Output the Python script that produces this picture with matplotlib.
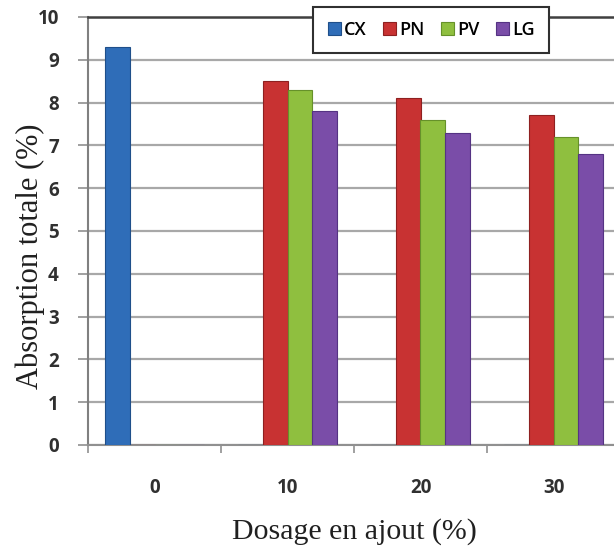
import matplotlib
matplotlib.use("Agg")
import matplotlib.pyplot as plt
import numpy as np

categories = ["0", "10", "20", "30"]
series_names = ["CX", "PN", "PV", "LG"]
cx = [9.3, 0, 0, 0]
pn = [0, 8.5, 8.1, 7.7]
pv = [0, 8.3, 7.6, 7.2]
lg = [0, 7.8, 7.3, 6.8]
yticks = [0, 1, 2, 3, 4, 5, 6, 7, 8, 9, 10]

colors = ["#2F6DB8", "#C83232", "#8FBF3F", "#7A4DA8"]
edges = ["#1F4F8A", "#8E2020", "#66912A", "#553383"]

W, H = 614, 558
fig = plt.figure(figsize=(W / 100, H / 100), dpi=100)
left = 88 / W
right = 620 / W
bottom = 1 - 445 / H
top = 1 - 17 / H
ax = fig.add_axes([left, bottom, right - left, top - bottom])

x = np.arange(len(categories))
bw = 0.185
allvals = [cx, pn, pv, lg]
for i, (vals, c, e) in enumerate(zip(allvals, colors, edges)):
    ax.bar(x + (i - 1.5) * bw, vals, width=bw, color=c, edgecolor=e,
           linewidth=0.8, label=series_names[i], zorder=3)

ax.set_xlim(-0.5, 3.5)
ax.set_ylim(0, 10)
ax.set_yticks(yticks)
ax.yaxis.grid(True, color="#A8A8A8", linewidth=1.6, zorder=0)
ax.set_axisbelow(True)

ax.spines["right"].set_visible(False)
ax.spines["top"].set_color("#404040")
ax.spines["top"].set_linewidth(1.8)
ax.spines["left"].set_color("#808080")
ax.spines["left"].set_linewidth(1.5)
ax.spines["bottom"].set_color("#909090")
ax.spines["bottom"].set_linewidth(1.5)

tick_font = dict(family=["Open Sans", "DejaVu Sans"], weight="bold", size=13.5)
ax.set_xticks(x)
ax.set_xticklabels(categories, fontdict=tick_font, color="#303030")
ax.tick_params(axis="x", which="major", length=0, pad=24)
ax.set_xticks(np.arange(-0.5, 3.6, 1.0), minor=True)
ax.tick_params(axis="x", which="minor", length=6, color="#909090", width=1.2)
ax.set_yticklabels([str(t) for t in yticks], fontdict=tick_font, color="#303030")
ax.tick_params(axis="y", length=7, color="#909090", width=1.2, pad=14)

serif = ["Liberation Serif", "DejaVu Serif"]
ax.set_ylabel("Absorption totale (%)", family=serif, size=22, color="#202020")
ax.yaxis.set_label_coords(-0.08, 0.44)
ax.set_xlabel("Dosage en ajout (%)", family=serif, size=21.5, color="#202020", labelpad=14)

leg = fig.legend(loc="center", bbox_to_anchor=(431 / W, 1 - 30 / H), ncol=4,
                 frameon=True, fancybox=False, handlelength=0.75, handleheight=0.75,
                 handletextpad=0.15, columnspacing=0.9, borderpad=0.8,
                 prop=dict(family=["Open Sans", "DejaVu Sans"], weight="semibold", size=13))
leg.get_frame().set_edgecolor("#303030")
leg.get_frame().set_linewidth(1.5)
leg.get_frame().set_facecolor("white")
leg.get_frame().set_alpha(1)

fig.savefig("out.png", dpi=100)
